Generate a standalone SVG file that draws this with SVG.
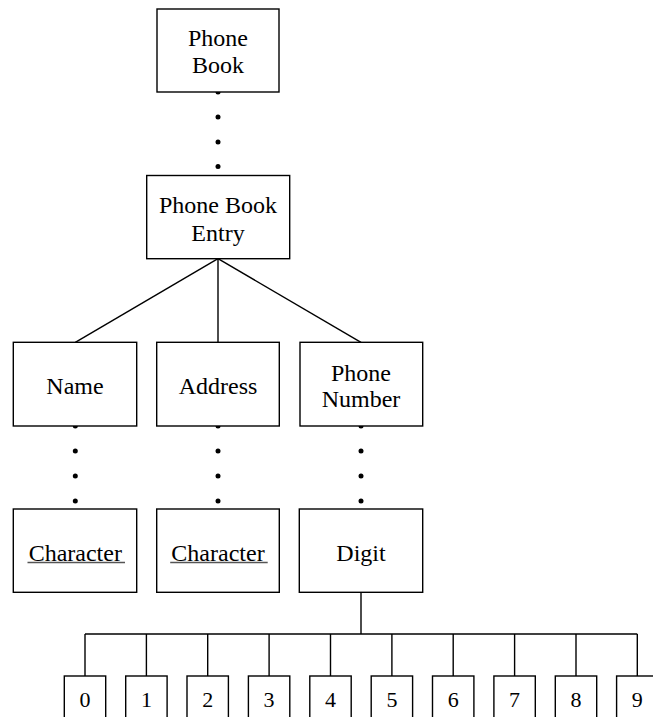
<svg xmlns="http://www.w3.org/2000/svg" width="653" height="717" viewBox="0 0 653 717">
  <style>
    .box { fill: #fff; stroke: #000; stroke-width: 1.4; }
    .edge { stroke: #000; stroke-width: 1.4; fill: none; }
    .dot { fill: #000; }
    .uline { stroke: #555; stroke-width: 1.4; }
  </style>
  <rect width="653" height="717" fill="#fff"/>

  <!-- connectors -->
  <g id="connectors">
    <!-- dotted links -->
    <g class="dot">
      <circle cx="218" cy="92" r="2.5"/><circle cx="218" cy="117" r="2.5"/><circle cx="218" cy="142" r="2.5"/><circle cx="218" cy="166.5" r="2.5"/>
      <circle cx="75.3" cy="426" r="2.5"/><circle cx="75.3" cy="451" r="2.5"/><circle cx="75.3" cy="476" r="2.5"/><circle cx="75.3" cy="501" r="2.5"/>
      <circle cx="218" cy="426" r="2.5"/><circle cx="218" cy="451" r="2.5"/><circle cx="218" cy="476" r="2.5"/><circle cx="218" cy="501" r="2.5"/>
      <circle cx="361" cy="426" r="2.5"/><circle cx="361" cy="451" r="2.5"/><circle cx="361" cy="476" r="2.5"/><circle cx="361" cy="501" r="2.5"/>
    </g>
    <!-- entry to fields -->
    <line class="edge" x1="218" y1="258.7" x2="75.3" y2="342.3"/>
    <line class="edge" x1="218" y1="258.7" x2="218" y2="342.3"/>
    <line class="edge" x1="218" y1="258.7" x2="361" y2="342.3"/>
    <!-- digit fan-out -->
    <line class="edge" x1="361" y1="592.3" x2="361" y2="634"/>
    <line class="edge" x1="85" y1="634" x2="637.3" y2="634"/>
    <line class="edge" x1="85" y1="634" x2="85" y2="676"/>
    <line class="edge" x1="146.4" y1="634" x2="146.4" y2="676"/>
    <line class="edge" x1="207.7" y1="634" x2="207.7" y2="676"/>
    <line class="edge" x1="269.1" y1="634" x2="269.1" y2="676"/>
    <line class="edge" x1="330.5" y1="634" x2="330.5" y2="676"/>
    <line class="edge" x1="391.9" y1="634" x2="391.9" y2="676"/>
    <line class="edge" x1="453.2" y1="634" x2="453.2" y2="676"/>
    <line class="edge" x1="514.6" y1="634" x2="514.6" y2="676"/>
    <line class="edge" x1="576" y1="634" x2="576" y2="676"/>
    <line class="edge" x1="637.3" y1="634" x2="637.3" y2="676"/>
  </g>

  <g id="phone-book">
    <rect class="box" x="157" y="9" width="122" height="83"/>
    <text x="218" y="46" font-family="Liberation Serif" font-size="24" text-anchor="middle">Phone</text>
    <text x="218" y="73" font-family="Liberation Serif" font-size="24" text-anchor="middle">Book</text>
  </g>

  <g id="phone-book-entry">
    <rect class="box" x="146.7" y="175.5" width="143" height="83.2"/>
    <text x="218" y="213" font-family="Liberation Serif" font-size="24" text-anchor="middle">Phone Book</text>
    <text x="218" y="241" font-family="Liberation Serif" font-size="24" text-anchor="middle">Entry</text>
  </g>

  <g id="name">
    <rect class="box" x="13.3" y="342.3" width="123.4" height="83.7"/>
    <text x="75" y="394" font-family="Liberation Serif" font-size="24" text-anchor="middle">Name</text>
  </g>

  <g id="address">
    <rect class="box" x="156.7" y="342.3" width="122.6" height="83.7"/>
    <text x="218" y="394" font-family="Liberation Serif" font-size="24" text-anchor="middle">Address</text>
  </g>

  <g id="phone-number">
    <rect class="box" x="300" y="342.3" width="122.7" height="83.7"/>
    <text x="361" y="380.5" font-family="Liberation Serif" font-size="24" text-anchor="middle">Phone</text>
    <text x="361" y="407" font-family="Liberation Serif" font-size="24" text-anchor="middle">Number</text>
  </g>

  <g id="name-character">
    <rect class="box" x="13.3" y="509" width="123.4" height="83.3"/>
    <text x="75.3" y="560.5" font-family="Liberation Serif" font-size="24" text-anchor="middle">Character</text>
    <line class="uline" x1="27.5" y1="562.5" x2="125" y2="562.5"/>
  </g>

  <g id="address-character">
    <rect class="box" x="156.7" y="509" width="122.6" height="83.3"/>
    <text x="218" y="560.5" font-family="Liberation Serif" font-size="24" text-anchor="middle">Character</text>
    <line class="uline" x1="170.2" y1="562.5" x2="267.7" y2="562.5"/>
  </g>

  <g id="digit">
    <rect class="box" x="299.3" y="509" width="123.4" height="83.3"/>
    <text x="361" y="560.5" font-family="Liberation Serif" font-size="24" text-anchor="middle">Digit</text>
  </g>

  <g id="d0"><rect class="box" x="64.3" y="676" width="41.4" height="60"/><text x="85" y="706.5" font-family="Liberation Serif" font-size="22" text-anchor="middle">0</text></g>
  <g id="d1"><rect class="box" x="125.7" y="676" width="41.4" height="60"/><text x="146.4" y="706.5" font-family="Liberation Serif" font-size="22" text-anchor="middle">1</text></g>
  <g id="d2"><rect class="box" x="187" y="676" width="41.4" height="60"/><text x="207.7" y="706.5" font-family="Liberation Serif" font-size="22" text-anchor="middle">2</text></g>
  <g id="d3"><rect class="box" x="248.4" y="676" width="41.4" height="60"/><text x="269.1" y="706.5" font-family="Liberation Serif" font-size="22" text-anchor="middle">3</text></g>
  <g id="d4"><rect class="box" x="309.8" y="676" width="41.4" height="60"/><text x="330.5" y="706.5" font-family="Liberation Serif" font-size="22" text-anchor="middle">4</text></g>
  <g id="d5"><rect class="box" x="371.2" y="676" width="41.4" height="60"/><text x="391.9" y="706.5" font-family="Liberation Serif" font-size="22" text-anchor="middle">5</text></g>
  <g id="d6"><rect class="box" x="432.5" y="676" width="41.4" height="60"/><text x="453.2" y="706.5" font-family="Liberation Serif" font-size="22" text-anchor="middle">6</text></g>
  <g id="d7"><rect class="box" x="493.9" y="676" width="41.4" height="60"/><text x="514.6" y="706.5" font-family="Liberation Serif" font-size="22" text-anchor="middle">7</text></g>
  <g id="d8"><rect class="box" x="555.3" y="676" width="41.4" height="60"/><text x="576" y="706.5" font-family="Liberation Serif" font-size="22" text-anchor="middle">8</text></g>
  <g id="d9"><rect class="box" x="616.6" y="676" width="41.4" height="60"/><text x="637.3" y="706.5" font-family="Liberation Serif" font-size="22" text-anchor="middle">9</text></g>
</svg>
